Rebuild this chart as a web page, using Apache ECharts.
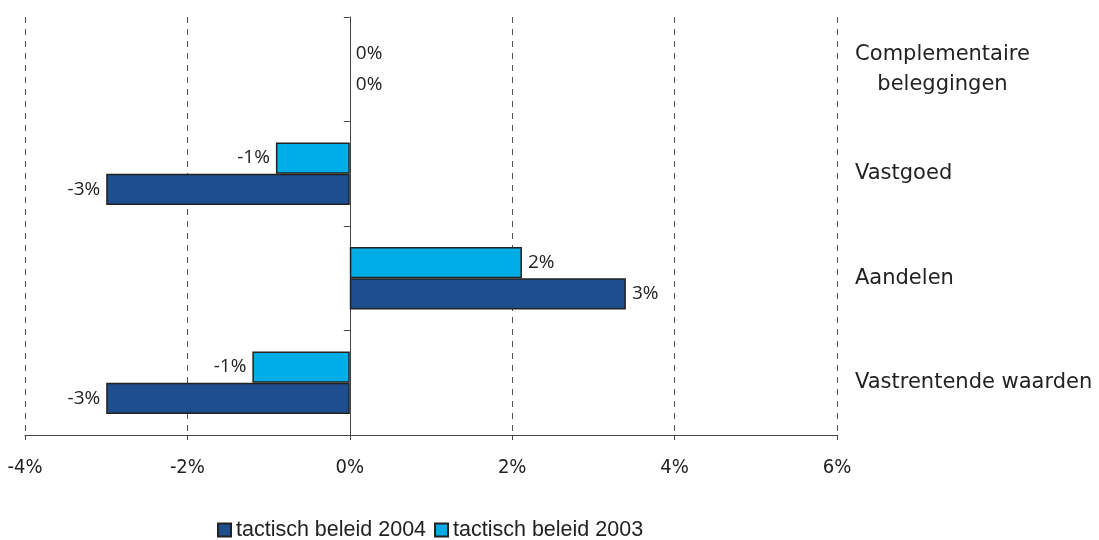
<!DOCTYPE html>
<html>
<head>
<meta charset="utf-8">
<script src="https://cdn.jsdelivr.net/npm/echarts@6/dist/echarts.min.js"></script>
<style>html,body{margin:0;padding:0;background:#fff;}#c{width:1099px;height:540px;}</style>
</head>
<body>
<div id="c"></div>
<script>
var categories = ['Vastrentende waarden', 'Aandelen', 'Vastgoed', 'Complementaire\nbeleggingen'];
var series2004 = [-3.0, 3.4, -3.0, 0];
var series2003 = [-1.2, 2.12, -0.91, 0];
var seriesNames = ['tactisch beleid 2004', 'tactisch beleid 2003'];
var xTicks = { min: -4, max: 6, interval: 2 };

var catFont = '21px "DejaVu Sans"';
var ctx = document.createElement('canvas').getContext('2d');
ctx.font = catFont;
var maxLineW = 0;
categories.forEach(function (c) {
  if (c.indexOf('\n') >= 0) {
    c.split('\n').forEach(function (s) { maxLineW = Math.max(maxLineW, ctx.measureText(s).width); });
  }
});

var chart = echarts.init(document.getElementById('c'), null, { renderer: 'canvas' });

function toData(arr) {
  return arr.map(function (v) {
    var d = { value: v, label: { position: v < 0 ? 'left' : 'right' } };
    if (v === 0) { d.itemStyle = { borderWidth: 0 }; }
    return d;
  });
}
var labelStyle = {
  show: true,
  distance: 6,
  fontFamily: 'Open Sans',
  fontSize: 19,
  color: '#222',
  formatter: function (p) { return Math.round(p.value) + '%'; }
};

chart.setOption({
  animation: false,
  grid: { left: 25, right: 262, top: 17, bottom: 105, containLabel: false },
  legend: {
    data: seriesNames,
    bottom: -6,
    left: 212,
    icon: 'rect',
    itemWidth: 13,
    itemHeight: 13,
    itemGap: 8,
    textStyle: { fontFamily: 'Liberation Sans', fontSize: 21.5, color: '#222' }
  },
  xAxis: {
    type: 'value',
    min: xTicks.min,
    max: xTicks.max,
    interval: xTicks.interval,
    axisLine: { show: true, onZero: false, lineStyle: { color: '#444', width: 1 } },
    axisTick: { show: true, length: 5, lineStyle: { color: '#444' } },
    axisLabel: {
      margin: 23,
      fontFamily: '"DejaVu Sans Condensed", "Liberation Sans", sans-serif',
      fontSize: 20,
      color: '#222',
      formatter: function (v) { return v + '%'; }
    },
    splitLine: { show: true, lineStyle: { type: [6, 6], color: '#555', width: 1 } }
  },
  yAxis: [
    {
      type: 'category',
      data: categories,
      position: 'left',
      axisLine: { show: true, onZero: true, lineStyle: { color: '#444', width: 1 } },
      axisTick: { show: true, length: 6, lineStyle: { color: '#444' } },
      axisLabel: { show: false },
      splitLine: { show: false }
    },
    {
      type: 'category',
      data: categories,
      position: 'right',
      axisLine: { show: false },
      axisTick: { show: false },
      splitLine: { show: false },
      axisLabel: {
        margin: 18,
        align: 'left',
        fontFamily: 'DejaVu Sans',
        fontSize: 21,
        color: '#222',
        lineHeight: 30,
        formatter: function (v) {
          if (v.indexOf('\n') >= 0) {
            return v.split('\n').map(function (s) { return '{c|' + s + '}'; }).join('\n');
          }
          return v;
        },
        rich: {
          c: { width: Math.ceil(maxLineW), align: 'center', fontFamily: 'DejaVu Sans', fontSize: 21, color: '#222', lineHeight: 30 }
        }
      }
    }
  ],
  series: [
    {
      name: seriesNames[1],
      type: 'bar',
      yAxisIndex: 0,
      data: toData(series2003),
      barGap: '0%',
      barCategoryGap: '40%',
      itemStyle: { color: '#00ADE6', borderColor: '#222', borderWidth: 1.5 },
      label: labelStyle
    },
    {
      name: seriesNames[0],
      type: 'bar',
      yAxisIndex: 0,
      data: toData(series2004),
      barGap: '0%',
      barCategoryGap: '40%',
      itemStyle: { color: '#1F4E8F', borderColor: '#222', borderWidth: 1.5 },
      label: labelStyle
    }
  ]
});
</script>
</body>
</html>
